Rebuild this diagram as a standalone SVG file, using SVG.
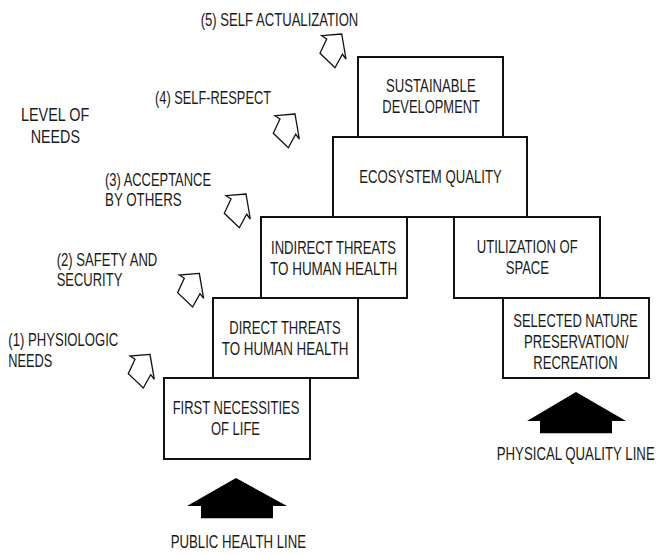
<svg xmlns="http://www.w3.org/2000/svg" xmlns:xlink="http://www.w3.org/1999/xlink" width="656" height="554" viewBox="0 0 656 554">
<style>
  .t { font-family: "Liberation Sans", Arial, sans-serif; font-size: 13.3px; fill: #1a1a1a; }
  .box { fill: #ffffff; stroke: #111111; stroke-width: 2; }
  .hollow { fill: #ffffff; stroke: #111111; stroke-width: 1.3; stroke-linejoin: miter; }
  .solid { fill: #000000; stroke: none; }
</style>
<defs>
  <path id="harrow" d="M0,0 L-20,1.7 L-15,5 L-21.7,19.3 L-6.7,33.7 L0.7,20.3 L4.3,25 Z"/>
</defs>
<rect width="656" height="554" fill="#ffffff"/>

<g id="labels">
  <text class="t" transform="translate(200.7,25.7) scale(1,1.33)" textLength="157.6" lengthAdjust="spacingAndGlyphs">(5) SELF ACTUALIZATION</text>
  <text class="t" transform="translate(155,104) scale(1,1.33)" textLength="116" lengthAdjust="spacingAndGlyphs">(4) SELF-RESPECT</text>
  <text class="t" transform="translate(21,120.7) scale(1,1.33)" textLength="68.3" lengthAdjust="spacingAndGlyphs">LEVEL OF</text>
  <text class="t" transform="translate(30.7,143.2) scale(1,1.33)" textLength="49.3" lengthAdjust="spacingAndGlyphs">NEEDS</text>
  <text class="t" transform="translate(105,185.7) scale(1,1.33)" textLength="106" lengthAdjust="spacingAndGlyphs">(3) ACCEPTANCE</text>
  <text class="t" transform="translate(105,206) scale(1,1.33)" textLength="76.7" lengthAdjust="spacingAndGlyphs">BY OTHERS</text>
  <text class="t" transform="translate(56.7,265.7) scale(1,1.33)" textLength="100.6" lengthAdjust="spacingAndGlyphs">(2) SAFETY AND</text>
  <text class="t" transform="translate(56.7,286) scale(1,1.33)" textLength="65.6" lengthAdjust="spacingAndGlyphs">SECURITY</text>
  <text class="t" transform="translate(8.3,345.5) scale(1,1.33)" textLength="110" lengthAdjust="spacingAndGlyphs">(1) PHYSIOLOGIC</text>
  <text class="t" transform="translate(8.3,366.7) scale(1,1.33)" textLength="44" lengthAdjust="spacingAndGlyphs">NEEDS</text>
  <text class="t" transform="translate(170.7,548.3) scale(1,1.33)" textLength="135.3" lengthAdjust="spacingAndGlyphs">PUBLIC HEALTH LINE</text>
  <text class="t" transform="translate(496.7,460) scale(1,1.33)" textLength="158" lengthAdjust="spacingAndGlyphs">PHYSICAL QUALITY LINE</text>
</g>

<g id="connectors">
  <use xlink:href="#harrow" href="#harrow" class="hollow" transform="translate(150,354.3)"/>
  <use xlink:href="#harrow" href="#harrow" class="hollow" transform="translate(199.3,273.3)"/>
  <use xlink:href="#harrow" href="#harrow" class="hollow" transform="translate(246,194)"/>
  <use xlink:href="#harrow" href="#harrow" class="hollow" transform="translate(295,114)"/>
  <use xlink:href="#harrow" href="#harrow" class="hollow" transform="translate(341.7,34)"/>
  <polygon class="solid" points="236,478 287,506 273,506 273,518.3 201,518.3 201,506 187,506"/>
  <polygon class="solid" points="576,392 626,421 612,421 612,433.3 540,433.3 540,421 527,421"/>
</g>

<g id="node-sustainable">
  <rect class="box" x="358" y="57" width="145" height="80"/>
  <text class="t" transform="translate(386,92.3) scale(1,1.33)" textLength="89.7" lengthAdjust="spacingAndGlyphs">SUSTAINABLE</text>
  <text class="t" transform="translate(382.3,113.3) scale(1,1.33)" textLength="97.7" lengthAdjust="spacingAndGlyphs">DEVELOPMENT</text>
</g>
<g id="node-ecosystem">
  <rect class="box" x="333" y="137" width="194" height="80"/>
  <text class="t" transform="translate(359.3,183.3) scale(1,1.33)" textLength="142.4" lengthAdjust="spacingAndGlyphs">ECOSYSTEM QUALITY</text>
</g>
<g id="node-indirect">
  <rect class="box" x="261" y="217" width="146" height="81"/>
  <text class="t" transform="translate(271,254) scale(1,1.33)" textLength="125" lengthAdjust="spacingAndGlyphs">INDIRECT THREATS</text>
  <text class="t" transform="translate(270,275) scale(1,1.33)" textLength="127.3" lengthAdjust="spacingAndGlyphs">TO HUMAN HEALTH</text>
</g>
<g id="node-utilization">
  <rect class="box" x="454" y="217" width="146" height="81"/>
  <text class="t" transform="translate(476.7,253.3) scale(1,1.33)" textLength="101" lengthAdjust="spacingAndGlyphs">UTILIZATION OF</text>
  <text class="t" transform="translate(505.7,274.3) scale(1,1.33)" textLength="43.3" lengthAdjust="spacingAndGlyphs">SPACE</text>
</g>
<g id="node-direct">
  <rect class="box" x="213" y="298" width="145" height="80"/>
  <text class="t" transform="translate(229.3,334.3) scale(1,1.33)" textLength="111.4" lengthAdjust="spacingAndGlyphs">DIRECT THREATS</text>
  <text class="t" transform="translate(221.7,355) scale(1,1.33)" textLength="126.6" lengthAdjust="spacingAndGlyphs">TO HUMAN HEALTH</text>
</g>
<g id="node-nature">
  <rect class="box" x="503" y="298" width="146" height="80"/>
  <text class="t" transform="translate(513.3,327.3) scale(1,1.33)" textLength="124.4" lengthAdjust="spacingAndGlyphs">SELECTED NATURE</text>
  <text class="t" transform="translate(524,348.3) scale(1,1.33)" textLength="104.3" lengthAdjust="spacingAndGlyphs">PRESERVATION/</text>
  <text class="t" transform="translate(533.3,369.3) scale(1,1.33)" textLength="84.4" lengthAdjust="spacingAndGlyphs">RECREATION</text>
</g>
<g id="node-first">
  <rect class="box" x="164" y="378" width="146" height="81"/>
  <text class="t" transform="translate(172.7,414.3) scale(1,1.33)" textLength="126.6" lengthAdjust="spacingAndGlyphs">FIRST NECESSITIES</text>
  <text class="t" transform="translate(211,435) scale(1,1.33)" textLength="49" lengthAdjust="spacingAndGlyphs">OF LIFE</text>
</g>
</svg>
